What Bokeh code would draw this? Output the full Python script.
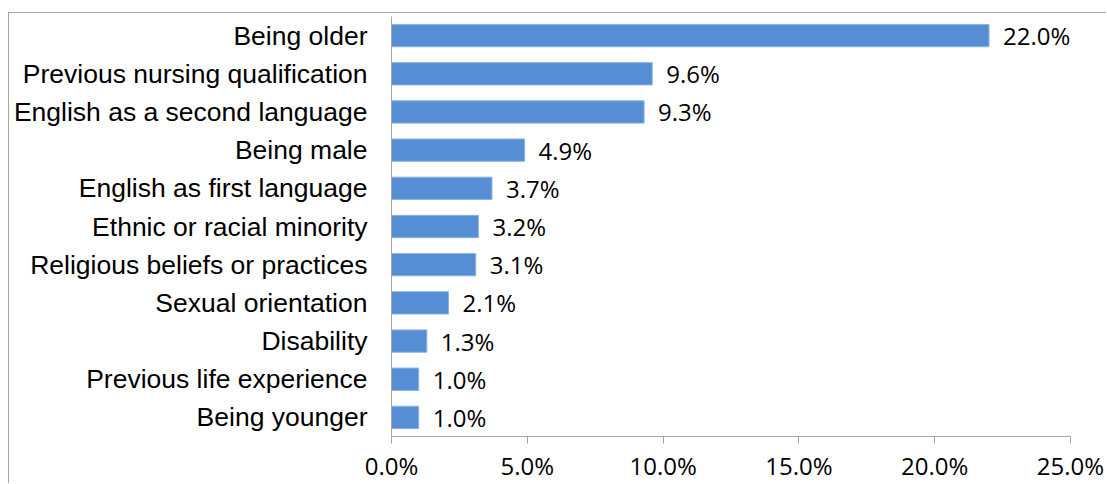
from bokeh.plotting import figure
from bokeh.models import ColumnDataSource, FactorRange, FixedTicker, PrintfTickFormatter, Range1d
from bokeh.core.properties import value
from bokeh.embed import file_html
from bokeh.resources import INLINE

categories = [
    "Being older",
    "Previous nursing qualification",
    "English as a second language",
    "Being male",
    "English as first language",
    "Ethnic or racial minority",
    "Religious beliefs or practices",
    "Sexual orientation",
    "Disability",
    "Previous life experience",
    "Being younger",
]
values = [22.0, 9.6, 9.3, 4.9, 3.7, 3.2, 3.1, 2.1, 1.3, 1.0, 1.0]
x_ticks = [0, 5, 10, 15, 20, 25]

src = ColumnDataSource(dict(
    cat=categories,
    val=values,
    lab=["%.1f%%" % v for v in values],
))

p = figure(
    width=1098, height=471,
    y_range=FactorRange(factors=list(reversed(categories)), range_padding=0),
    x_range=Range1d(0, 25),
    output_backend="svg", toolbar_location=None,
    min_border_left=382, min_border_right=37, min_border_top=3, min_border_bottom=46,
    margin=(12, 0, 0, 8),
    styles={"border-top": "1px solid #a6a6a6", "border-left": "1px solid #a6a6a6"},
)
p.outline_line_color = None
p.background_fill_color = "white"
p.border_fill_color = "white"
p.xgrid.visible = False
p.ygrid.visible = False

p.hbar(y="cat", right="val", left=0, height=0.585, source=src,
       fill_color="#558ed5", line_color="#8db3e2", line_width=1)

p.text(x="val", y="cat", text="lab", source=src, x_offset=14,
       text_align="left", text_baseline="middle",
       text_font=value("Open Sans"), text_font_size="24px", text_color="black")

xa = p.xaxis[0]
xa.ticker = FixedTicker(ticks=x_ticks)
xa.formatter = PrintfTickFormatter(format="%.1f%%")
xa.axis_line_color = "#a6a6a6"
xa.major_tick_line_color = "#a6a6a6"
xa.major_tick_out = 7
xa.major_tick_in = 0
xa.minor_tick_line_color = None
xa.major_label_text_font = "Open Sans"
xa.major_label_text_font_size = "24px"
xa.major_label_text_color = "black"
xa.major_label_standoff = 5

ya = p.yaxis[0]
ya.axis_line_color = "#a6a6a6"
ya.major_tick_line_color = None
ya.major_tick_out = 0
ya.major_tick_in = 0
ya.minor_tick_line_color = None
ya.major_label_text_font = "Liberation Sans"
ya.major_label_text_font_size = "26.5px"
ya.major_label_text_color = "black"
ya.major_label_standoff = 24

open("out.html", "w").write(file_html(p, INLINE))
